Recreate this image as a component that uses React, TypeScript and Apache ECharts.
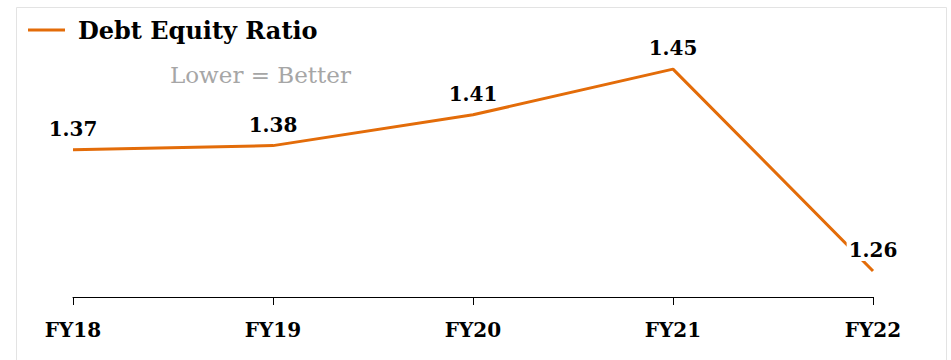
import React, { useEffect, useRef } from "react";
import * as echarts from "echarts";

const categories = ["FY18", "FY19", "FY20", "FY21", "FY22"];
const debtEquity = [1.374, 1.378, 1.407, 1.45, 1.26];
const seriesName = "Debt Equity Ratio";
const note = "Lower = Better";

export default function App() {
  const ref = useRef<HTMLDivElement>(null);
  useEffect(() => {
    document.body.style.margin = "0";
    const chart = echarts.init(ref.current!, null, { renderer: "svg" });
    const font = "'DejaVu Serif', Georgia, serif";
    chart.setOption({
      animation: false,
      backgroundColor: "#ffffff",
      graphic: [
        {
          type: "rect",
          shape: { x: 16.5, y: 7.5, width: 930, height: 400 },
          style: { fill: "none", stroke: "#e3e3e3", lineWidth: 1 },
          z: 0,
        },
        {
          type: "text",
          left: 170,
          top: 63,
          style: { text: note, fill: "#a6a6a6", font: `23px ${font}` },
        },
      ],
      legend: {
        left: 23,
        top: 13,
        icon: "path://M0,0 L40,0 L40,3 L0,3 Z",
        itemWidth: 37,
        itemHeight: 3,
        itemGap: 10,
        textStyle: { fontFamily: font, fontWeight: "bold", fontSize: 24, color: "#000", padding: [0, 0, 0, 8] },
        data: [seriesName],
      },
      grid: { left: 73, right: 78, top: 16, bottom: 63, containLabel: false },
      xAxis: {
        type: "category",
        data: categories,
        boundaryGap: false,
        axisLine: { lineStyle: { color: "#000", width: 1 } },
        axisTick: { show: true, length: 8, lineStyle: { color: "#000" } },
        axisLabel: { fontFamily: font, fontWeight: "bold", fontSize: 20, color: "#000", margin: 23 },
      },
      yAxis: {
        type: "value",
        min: 1.2355,
        max: 1.5,
        show: false,
        splitLine: { show: false },
      },
      series: [
        {
          name: seriesName,
          type: "line",
          data: debtEquity,
          symbol: "circle",
          symbolSize: 0,
          showSymbol: true,
          lineStyle: { color: "#E36C09", width: 3 },
          itemStyle: { color: "#E36C09" },
          label: {
            show: true,
            position: "top",
            distance: 10,
            fontFamily: font,
            fontWeight: "bold",
            fontSize: 20,
            color: "#000",
            backgroundColor: "#fff",
            padding: [1, 2],
            formatter: (p: any) => Number(p.value).toFixed(2),
          },
        },
      ],
    });
    return () => chart.dispose();
  }, []);
  return <div ref={ref} style={{ position: "absolute", left: 0, top: 0, width: 951, height: 360 }} />;
}
